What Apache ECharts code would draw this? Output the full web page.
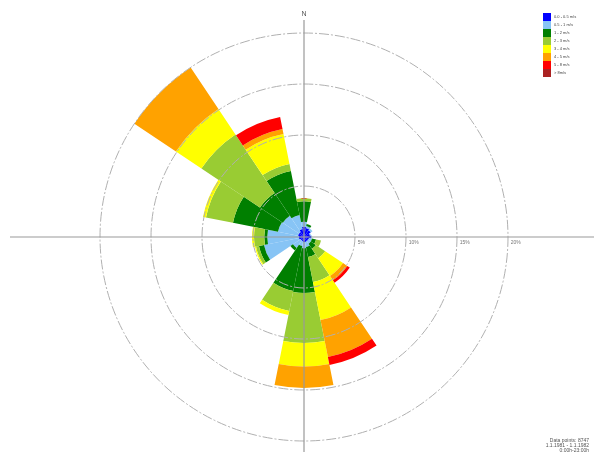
<!DOCTYPE html>
<html>
<head>
<meta charset="utf-8">
<script src="https://cdn.jsdelivr.net/npm/echarts@6/dist/echarts.min.js"></script>
<style>
html, body { margin: 0; padding: 0; background: #fff; }
#chart { width: 594px; height: 458px; }
</style>
</head>
<body>
<div id="chart"></div>
<script>
// wind directions, clockwise from north
var directions = ['N', 'NNE', 'NE', 'ENE', 'E', 'ESE', 'SE', 'SSE', 'S', 'SSW', 'SW', 'WSW', 'W', 'WNW', 'NW', 'NNW'];
var speedClasses = ['0.0 - 0.5 m/s', '0.5 - 1 m/s', '1 - 2 m/s', '2 - 3 m/s', '3 - 4 m/s', '4 - 5 m/s', '5 - 8 m/s', '> 8m/s'];
var speedColors = ['#0000ff', '#87c4f5', '#007f00', '#99cc33', '#ffff00', '#ffa200', '#ff0000', '#aa2222'];

// frequency (%) per direction for each speed class
var s0_05 = [1.0, 0.9, 0.8, 0.6, 0.7, 0.5, 0.5, 0.5, 0.5, 0.4, 0.4, 0.5, 0.5, 0.6, 0.6, 0.8];
var s05_1 = [0.5, 0.2, 0.2, 0.1, 0.1, 0.3, 0.3, 0.5, 0.6, 0.5, 0.9, 3.5, 3.1, 2.0, 1.9, 1.4];
var s1_2  = [2.0, 0.2, 0, 0, 0, 0.4, 0.6, 1.0, 4.4, 4.5, 0.3, 0.5, 0.3, 4.5, 2.7, 4.4];
var s2_3  = [0.3, 0, 0, 0, 0, 0.5, 1.1, 2.5, 4.9, 2.0, 0, 0.3, 1.0, 2.7, 6.9, 0.7];
var s3_4  = [0, 0, 0, 0, 0, 0, 2.1, 3.8, 2.3, 0.4, 0, 0.1, 0.2, 0.3, 3.0, 3.0];
var s4_5  = [0, 0, 0, 0, 0, 0, 0.5, 3.7, 2.1, 0, 0, 0, 0, 0, 4.9, 0.5];
var s5_8  = [0, 0, 0, 0, 0, 0, 0.3, 0.8, 0, 0, 0, 0, 0, 0, 0, 1.2];
var s8up  = [0, 0, 0, 0, 0, 0, 0, 0, 0, 0, 0, 0, 0, 0, 0, 0];

var ringTicks = [5, 10, 15, 20];
var infoLines = ['Data points: 8747', '1.1.1981 - 1.1.1982', '0:00h-23:00h'];

var cx = 304, cy = 237, rMax = 204;

var chart = echarts.init(document.getElementById('chart'));

var allValues = [s0_05, s05_1, s1_2, s2_3, s3_4, s4_5, s5_8, s8up];
var series = [];
for (let i = 0; i < speedClasses.length; i++) {
    series.push({
        name: speedClasses[i],
        type: 'bar',
        coordinateSystem: 'polar',
        polarIndex: 0,
        stack: 'wind',
        barCategoryGap: '0%',
        itemStyle: { color: speedColors[i] },
        emphasis: { disabled: true },
        data: allValues[i]
    });
}

var option = {
    animation: false,
    color: speedColors,
    legend: {
        data: speedClasses,
        orient: 'vertical',
        left: 543,
        top: 13,
        padding: 0,
        itemWidth: 8,
        itemHeight: 8,
        itemGap: 0,
        icon: 'rect',
        selectedMode: false,
        textStyle: { fontSize: 4, color: '#444', padding: [0, 0, 0, -2] }
    },
    polar: [
        { center: [cx, cy], radius: rMax },
        { center: [cx, cy], radius: rMax }
    ],
    angleAxis: [
        {
            polarIndex: 0,
            type: 'category',
            data: directions,
            startAngle: 90 + 180 / directions.length,
            clockwise: true,
            axisLine: { show: false },
            axisTick: { show: false },
            axisLabel: { show: false },
            splitLine: { show: false }
        },
        {
            polarIndex: 1,
            type: 'value',
            startAngle: 0,
            min: 0,
            max: 360,
            axisLine: { show: false },
            axisTick: { show: false },
            axisLabel: { show: false },
            splitLine: { show: false }
        }
    ],
    radiusAxis: [
        {
            polarIndex: 0,
            type: 'value',
            min: 0,
            max: ringTicks[ringTicks.length - 1],
            interval: 5,
            axisLine: { show: false },
            axisTick: { show: false },
            axisLabel: { show: false },
            splitLine: { show: false }
        },
        {
            polarIndex: 1,
            type: 'value',
            min: 0,
            max: ringTicks[ringTicks.length - 1],
            interval: 5,
            z: 5,
            axisLine: { show: false },
            axisTick: { show: false },
            axisLabel: {
                show: true,
                fontSize: 5,
                color: '#777',
                align: 'left',
                verticalAlign: 'top',
                margin: -3,
                formatter: function (v) {
                    return ringTicks.indexOf(v) >= 0 ? '  ' + v + '%' : '';
                }
            },
            splitLine: {
                show: true,
                lineStyle: { color: '#b0b0b0', width: 1, type: [10, 2, 2, 2] }
            }
        }
    ],
    graphic: [
        {
            type: 'line', z: 10, silent: true,
            shape: { x1: 10, y1: cy, x2: 594, y2: cy },
            style: { stroke: '#999', lineWidth: 1.2 }
        },
        {
            type: 'line', z: 10, silent: true,
            shape: { x1: cx, y1: 20, x2: cx, y2: 452 },
            style: { stroke: '#999', lineWidth: 1.2 }
        },
        {
            type: 'text', z: 10, silent: true,
            x: cx, y: 11,
            style: { text: 'N', fontSize: 7, fill: '#555', align: 'center', font: '7px sans-serif' }
        },
        {
            type: 'text', z: 10, silent: true,
            x: 589, y: 438,
            style: {
                text: infoLines.join('\n'),
                font: '5px sans-serif',
                lineHeight: 5,
                fill: '#555',
                align: 'right',
                verticalAlign: 'top'
            }
        }
    ],
    series: series
};

chart.setOption(option);
</script>
</body>
</html>
